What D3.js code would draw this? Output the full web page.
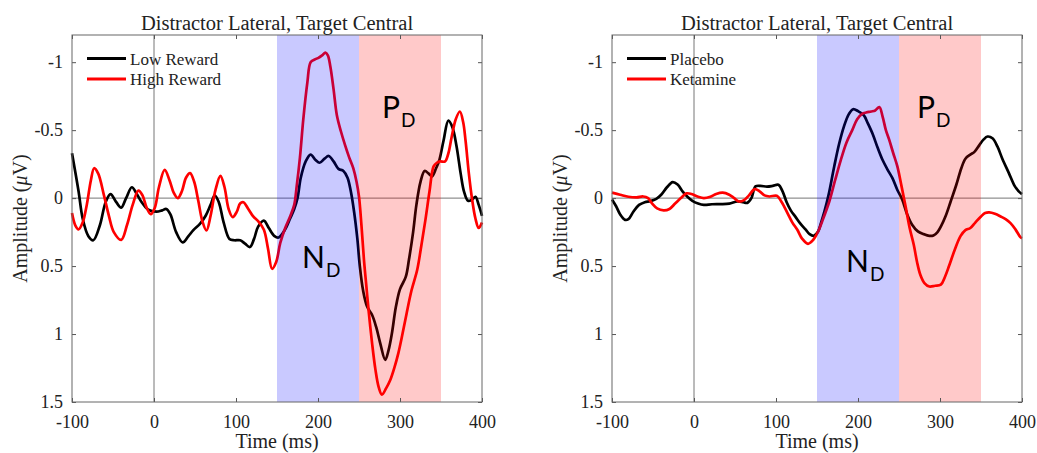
<!DOCTYPE html>
<html>
<head>
<meta charset="utf-8">
<script src="https://cdn.jsdelivr.net/npm/d3@7/dist/d3.min.js"></script>
<style>
  body { margin: 0; background: #fff; }
  svg { display: block; }
</style>
</head>
<body>
<div id="chart"></div>
<script>
// time (ms), amplitude (µV) pairs
const lowReward = [[-100,-0.33],[-92,-0.05],[-87,0.15],[-80,0.28],[-74,0.31],[-66,0.2],[-59,0.03],[-53,-0.03],[-46,0.03],[-40,0.07],[-34,0.0],[-27,-0.08],[-21,-0.03],[-15,0.03],[-7,0.085],[3,0.1],[10,0.09],[15,0.08],[20,0.12],[27,0.25],[35,0.326],[42,0.28],[48,0.235],[56,0.19],[63,0.13],[69,0.05],[74,-0.02],[79,0.03],[85,0.18],[92,0.3],[98,0.31],[105,0.31],[111,0.335],[117,0.36],[122,0.3],[127,0.21],[134,0.165],[140,0.22],[147,0.28],[152,0.29],[160,0.23],[166,0.15],[171,0.08],[175,0.0],[179,-0.15],[185,-0.27],[191,-0.32],[197,-0.28],[202,-0.26],[208,-0.29],[213,-0.31],[219,-0.27],[225,-0.215],[231,-0.2],[236,-0.15],[240,-0.05],[244,0.1],[248,0.3],[251,0.5],[255,0.68],[260,0.8],[266,0.86],[271,0.95],[276,1.07],[282,1.19],[286,1.12],[290,1.0],[295,0.8],[300,0.67],[307,0.58],[311,0.45],[316,0.25],[320,0.05],[325,-0.12],[330,-0.2],[335,-0.18],[339,-0.16],[344,-0.22],[348,-0.28],[353,-0.42],[359,-0.57],[364,-0.52],[369,-0.38],[374,-0.18],[378,-0.05],[383,0.02],[388,0.01],[392,-0.01],[396,0.05],[400,0.13]];
const highReward = [[-100,0.11],[-96,0.2],[-92,0.23],[-87,0.18],[-82,0.05],[-77,-0.13],[-73,-0.22],[-68,-0.18],[-61,-0.02],[-55,0.13],[-49,0.25],[-40,0.307],[-33,0.2],[-26,0.05],[-19,-0.055],[-14,-0.02],[-9,0.07],[-4,0.118],[1,0.07],[6,-0.08],[13,-0.208],[19,-0.13],[24,-0.04],[29,0.0],[34,-0.05],[39,-0.15],[44,-0.184],[49,-0.12],[54,0.02],[59,0.17],[64,0.238],[69,0.13],[75,-0.06],[81,-0.164],[86,-0.08],[91,0.08],[96,0.14],[101,0.1],[105,0.04],[109,0.03],[115,0.08],[121,0.135],[127,0.17],[134,0.233],[139,0.37],[144,0.52],[149,0.47],[154,0.33],[160,0.22],[166,0.135],[171,0.05],[174,-0.086],[178,-0.3],[182,-0.576],[187,-0.85],[191,-1.0],[196,-1.02],[200,-1.03],[205,-1.05],[209,-1.07],[212,-1.05],[215,-0.97],[219,-0.8],[223,-0.61],[228,-0.49],[233,-0.39],[238,-0.3],[243,-0.22],[247,-0.12],[250,-0.01],[253,0.2],[256,0.45],[259,0.65],[262,0.845],[266,1.07],[270,1.26],[274,1.39],[278,1.446],[283,1.4],[288,1.34],[293,1.25],[298,1.14],[303,1.0],[308,0.85],[314,0.68],[321,0.527],[326,0.35],[331,0.16],[336,-0.05],[341,-0.233],[345,-0.26],[349,-0.27],[355,-0.27],[359,-0.33],[363,-0.45],[368,-0.58],[373,-0.637],[377,-0.56],[380,-0.42],[384,-0.18],[388,0.012],[392,0.15],[396,0.22],[400,0.18]];
const placebo = [[-100,0.01],[-95,0.06],[-90,0.12],[-84,0.16],[-80,0.155],[-74,0.1],[-67,0.05],[-60,0.03],[-53,0.022],[-46,0.005],[-40,-0.025],[-33,-0.08],[-26,-0.118],[-20,-0.1],[-14,-0.05],[-8,-0.01],[-2,0.02],[5,0.04],[12,0.05],[22,0.045],[33,0.044],[43,0.04],[53,0.025],[60,0.03],[65,0.035],[70,0.0],[75,-0.086],[81,-0.09],[89,-0.085],[96,-0.09],[103,-0.098],[108,-0.05],[113,0.03],[118,0.09],[124,0.14],[130,0.19],[136,0.23],[141,0.265],[146,0.277],[151,0.25],[155,0.18],[159,0.1],[164,-0.02],[171,-0.233],[177,-0.4],[183,-0.53],[189,-0.62],[194,-0.654],[200,-0.64],[207,-0.61],[212,-0.55],[218,-0.47],[224,-0.37],[230,-0.28],[236,-0.21],[242,-0.147],[248,-0.06],[254,0.012],[260,0.12],[266,0.196],[273,0.245],[280,0.265],[287,0.278],[292,0.275],[297,0.25],[301,0.21],[307,0.13],[313,0.025],[320,-0.1],[326,-0.22],[331,-0.29],[337,-0.32],[342,-0.34],[348,-0.39],[353,-0.43],[358,-0.453],[364,-0.44],[370,-0.38],[376,-0.29],[384,-0.184],[391,-0.09],[396,-0.05],[400,-0.03]];
const ketamine = [[-100,-0.04],[-90,-0.025],[-80,-0.01],[-70,-0.005],[-62,-0.012],[-56,0.0],[-51,0.04],[-45,0.075],[-37,0.09],[-30,0.08],[-23,0.04],[-16,0.0],[-9,-0.035],[-3,-0.03],[5,-0.01],[12,0.0],[20,-0.01],[27,-0.03],[35,-0.04],[43,-0.025],[49,0.0],[55,0.025],[61,0.015],[67,-0.02],[74,-0.066],[80,-0.05],[86,-0.02],[92,-0.012],[101,-0.017],[107,0.03],[114,0.11],[120,0.18],[126,0.233],[132,0.3],[139,0.336],[145,0.31],[151,0.25],[157,0.16],[165,0.025],[172,-0.13],[179,-0.28],[186,-0.41],[193,-0.5],[199,-0.58],[205,-0.62],[210,-0.63],[216,-0.637],[221,-0.645],[226,-0.67],[230,-0.6],[234,-0.5],[238,-0.43],[243,-0.33],[248,-0.233],[253,-0.09],[258,0.06],[263,0.22],[268,0.343],[272,0.47],[276,0.564],[281,0.625],[287,0.65],[294,0.645],[301,0.637],[306,0.58],[311,0.5],[318,0.38],[325,0.28],[331,0.235],[337,0.22],[343,0.18],[350,0.135],[355,0.11],[360,0.105],[367,0.115],[374,0.135],[380,0.155],[386,0.184],[392,0.23],[398,0.287],[400,0.295]];

const xTicks = [-100, 0, 100, 200, 300, 400];
const yTicks = [-1, -0.5, 0, 0.5, 1, 1.5];
const xDomain = [-100, 400];
const yDomain = [-1.2, 1.5];
const windows = [
  { from: 150, to: 250, fill: '#0000ff', label: 'N' },
  { from: 250, to: 350, fill: '#ff0000', label: 'P' }
];
const panels = [
  { left: 72, title: 'Distractor Lateral, Target Central', names: ['Low Reward', 'High Reward'], series: [lowReward, highReward],
    nd: [302, 268], pd: [382, 118] },
  { left: 612, title: 'Distractor Lateral, Target Central', names: ['Placebo', 'Ketamine'], series: [placebo, ketamine],
    nd: [846, 272], pd: [917, 118] }
];
const colors = ['#000000', '#ff0000'];

const W = 1037, H = 453;
const pw = 410, plotTop = 35, ph = 367;
const serif = '"Liberation Serif", "Times New Roman", serif';

const svg = d3.select('#chart').append('svg').attr('width', W).attr('height', H);

panels.forEach(p => {
  const g = svg.append('g').attr('transform', `translate(${p.left},${plotTop})`);
  const x = d3.scaleLinear().domain(xDomain).range([0, pw]);
  const y = d3.scaleLinear().domain(yDomain).range([0, ph]);

  // zero reference lines
  g.append('line').attr('x1', x(0)).attr('x2', x(0)).attr('y1', 0).attr('y2', ph)
    .attr('stroke', '#666').attr('stroke-width', 0.9);
  g.append('line').attr('x1', 0).attr('x2', pw).attr('y1', y(0)).attr('y2', y(0))
    .attr('stroke', '#666').attr('stroke-width', 0.9);

  const line = d3.line().x(d => x(d[0])).y(d => y(d[1])).curve(d3.curveCatmullRom.alpha(0.5));
  p.series.forEach((s, i) => {
    g.append('path').datum(s).attr('d', line).attr('fill', 'none')
      .attr('stroke', colors[i]).attr('stroke-width', 2.7).attr('stroke-linejoin', 'round');
  });

  // translucent time windows drawn over the traces
  g.selectAll('.win').data(windows).join('rect')
    .attr('x', d => x(d.from)).attr('width', d => x(d.to) - x(d.from))
    .attr('y', 0).attr('height', ph)
    .attr('fill', d => d.fill).attr('fill-opacity', 0.21);

  // axes with inward ticks on all four sides
  const styleAxis = sel => {
    sel.selectAll('.domain').remove();
    sel.selectAll('line').attr('stroke', '#555');
    sel.selectAll('text').attr('font-family', serif).attr('font-size', 18).attr('fill', '#222');
  };
  g.append('g').attr('transform', `translate(0,${ph})`)
    .call(d3.axisBottom(x).tickValues(xTicks).tickSizeInner(-4).tickSizeOuter(0).tickPadding(13).tickFormat(d => String(d)))
    .call(styleAxis);
  g.append('g')
    .call(d3.axisTop(x).tickValues(xTicks).tickSizeInner(-4).tickSizeOuter(0).tickFormat(''))
    .call(styleAxis);
  g.append('g')
    .call(d3.axisLeft(y).tickValues(yTicks).tickSizeInner(-4).tickSizeOuter(0).tickPadding(9).tickFormat(d => String(d)))
    .call(styleAxis);
  g.append('g').attr('transform', `translate(${pw},0)`)
    .call(d3.axisRight(y).tickValues(yTicks).tickSizeInner(-4).tickSizeOuter(0).tickFormat(''))
    .call(styleAxis);

  g.append('rect').attr('width', pw).attr('height', ph).attr('fill', 'none')
    .attr('stroke', '#666').attr('stroke-width', 1);

  // legend
  const lg = g.append('g').attr('transform', 'translate(15,23.5)');
  p.names.forEach((n, i) => {
    lg.append('line').attr('x1', 0).attr('x2', 39).attr('y1', i * 20.5).attr('y2', i * 20.5)
      .attr('stroke', colors[i]).attr('stroke-width', 2.8);
    lg.append('text').attr('x', 43).attr('y', i * 20.5 + 6).text(n)
      .attr('font-family', serif).attr('font-size', 17).attr('fill', '#222');
  });

  // titles and axis labels
  g.append('text').attr('x', pw / 2).attr('y', -5).attr('text-anchor', 'middle')
    .attr('font-family', serif).attr('font-size', 20.5).attr('fill', '#222').text(p.title);
  g.append('text').attr('x', pw / 2).attr('y', 413).attr('text-anchor', 'middle')
    .attr('font-family', serif).attr('font-size', 20).attr('fill', '#222').text('Time (ms)');
  const yl = g.append('text').attr('transform', `translate(-45,${ph / 2}) rotate(-90)`)
    .attr('text-anchor', 'middle').attr('font-family', serif).attr('font-size', 20).attr('fill', '#222');
  yl.append('tspan').text('Amplitude (');
  yl.append('tspan').attr('font-style', 'italic').text('μ');
  yl.append('tspan').text('V)');

  // component labels
  [[p.nd, 'N'], [p.pd, 'P']].forEach(([pos, letter]) => {
    const t = svg.append('text').attr('x', pos[0]).attr('y', pos[1])
      .attr('font-family', 'Lato, "Open Sans", sans-serif').attr('fill', '#000');
    t.append('tspan').attr('font-size', 30).text(letter);
    t.append('tspan').attr('font-size', 19).attr('dy', 9).attr('dx', 1).text('D');
  });
});
</script>
</body>
</html>
